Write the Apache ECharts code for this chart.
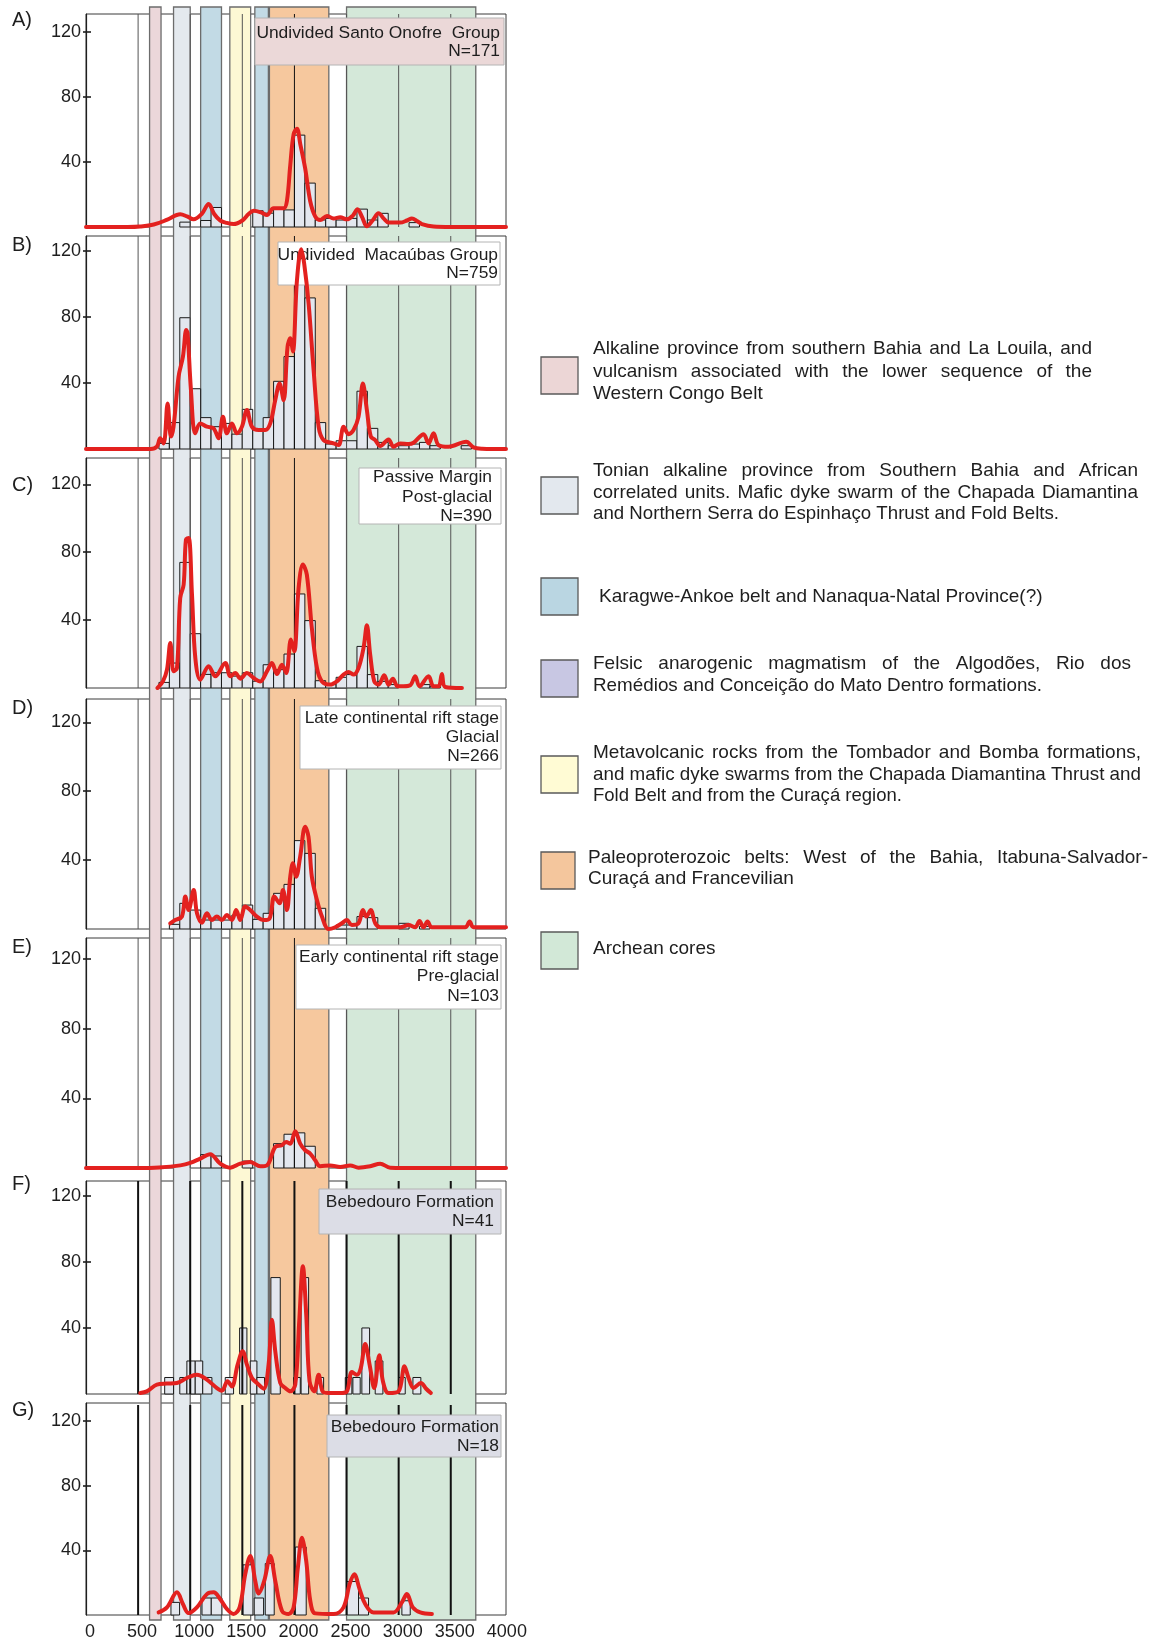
<!DOCTYPE html>
<html>
<head>
<meta charset="utf-8">
<script src="https://cdn.jsdelivr.net/npm/echarts@6/dist/echarts.min.js"></script>
<style>
  html, body { margin: 0; padding: 0; background: #fff; }
  #chart { width: 1154px; height: 1641px; }
</style>
</head>
<body>
<div id="chart"></div>
<script>
// ---------- data ----------
const ageTicks = [0, 500, 1000, 1500, 2000, 2500, 3000, 3500, 4000];
const yTicks = [40, 80, 120];
const yearLines = [500, 1000, 1500, 2000, 2500, 3000, 3500];

// reference age bands (Ma): [start, end, colour index]
const ageBands = [
  [610, 720, 0], [840, 1000, 1], [1100, 1300, 2], [1380, 1580, 3],
  [1620, 1750, 2], [1760, 2330, 4], [2500, 3740, 5]
];

// histogram bins: [from Ma, to Ma, height]
const barsA = [[900,1000,3],[1100,1200,4],[1200,1300,12],[1600,1700,10],[1700,1800,8.5],[1800,1900,12],[1900,2000,10.5],[2000,2100,56.5],[2100,2200,27],[2200,2300,4.3],[2300,2400,5.3],[2400,2500,4.3],[2500,2600,5.3],[2600,2700,11],[2700,2800,4.3],[2800,2900,8.4],[3100,3200,2.7]];
const barsB = [[700,800,3.4],[800,900,16],[900,1000,79.5],[1000,1100,36.5],[1100,1200,19],[1200,1300,13.5],[1300,1400,15.5],[1400,1500,9],[1500,1600,24],[1600,1700,11.5],[1700,1800,19],[1800,1900,41],[1900,2000,56],[2000,2100,116],[2100,2200,91.5],[2200,2300,16],[2300,2400,3],[2400,2500,5],[2500,2600,5],[2600,2700,35],[2700,2800,12.5],[2800,2900,4],[2900,3000,2],[3000,3100,2],[3100,3200,3],[3200,3300,4],[3300,3400,2],[3600,3700,2]];
const barsC = [[700,800,3.3],[800,900,14.7],[900,1000,74],[1000,1100,32],[1100,1200,8],[1200,1300,9],[1300,1400,9],[1400,1500,7],[1500,1600,9],[1600,1700,4],[1700,1800,13.7],[1800,1900,10.8],[1900,2000,20],[2000,2100,55.4],[2100,2200,39.7],[2200,2300,4.3],[2300,2400,2],[2400,2500,6.3],[2500,2600,7.9],[2600,2700,24.5],[2700,2800,7.9],[2800,2900,3.9],[2900,3000,2],[3200,3300,2],[3300,3400,1]];
const barsD = [[800,900,2.7],[900,1000,14.9],[1000,1100,11],[1100,1200,5.2],[1200,1300,5.2],[1300,1400,5.2],[1400,1500,8.1],[1500,1600,13.9],[1600,1700,5.6],[1700,1800,9.1],[1800,1900,20.7],[1900,2000,25.9],[2000,2100,51.3],[2100,2200,43.9],[2200,2300,12],[2400,2500,2.3],[2500,2600,2.3],[2600,2700,7.2],[2700,2800,6.6],[3000,3100,3.3],[3200,3300,1.5]];
const barsE = [[1100,1200,7.7],[1200,1300,6.9],[1500,1600,4],[1800,1900,14],[1900,2000,19.4],[2000,2100,20.2],[2100,2200,12.5]];
const barsF = [[755,840,10],[900,968,10],[968,1048,20],[1048,1120,20],[1120,1208,10],[1336,1416,10],[1474,1544,40],[1576,1640,20],[1640,1713,10],[1774,1864,70.5],[1992,2056,10],[2064,2136,70.5],[2216,2280,10],[2488,2551,10],[2561,2631,10],[2647,2721,40],[2775,2849,20],[2999,3063,10],[3137,3213,10]];
const barsG = [[815,898,7.8],[1113,1202,10.5],[1202,1304,10.5],[1506,1602,31],[1614,1704,10.5],[1720,1806,31.8],[2008,2113,42],[2503,2615,20.7],[2615,2711,10.5],[3031,3111,8.8]];

// probability density curves: [age Ma, value]
const kdeA = [[0,0],[400,0],[520,0.3],[650,1.5],[780,4.5],[904,7.8],[970,6.5],[1032,4.7],[1110,8],[1177,14.2],[1230,8],[1289,3.9],[1350,2.5],[1416,1.8],[1500,4],[1560,8],[1608,10],[1680,9],[1736,7.4],[1800,11.5],[1896,11.5],[1928,16],[1960,38],[1992,57],[2024,60.5],[2056,51],[2103,36],[2151,16],[2200,6.4],[2248,4.3],[2312,6.8],[2375,5.3],[2439,6],[2503,4.7],[2560,7],[2605,10.9],[2650,6],[2695,0.5],[2750,4],[2807,8.4],[2860,5],[2903,2.7],[3015,2.7],[3080,4],[3127,5.3],[3180,3.5],[3223,1.8],[3335,0.3],[3500,0],[4030,0]];
const kdeB = [[0,0],[620,0],[680,1.4],[712,6.5],[745,3.4],[783,27.6],[815,7.5],[840,13.5],[888,43.8],[930,55.9],[962,72],[975,70],[1007,35.7],[1048,9.5],[1096,15.5],[1160,13.5],[1224,12.5],[1272,6.5],[1314,19.6],[1352,9.5],[1400,15.5],[1448,9.5],[1496,13.5],[1544,23.6],[1592,13.5],[1656,11.5],[1720,11.5],[1768,15.5],[1816,29.6],[1857,39.7],[1896,29.6],[1934,62],[1960,67],[1985,59],[2024,102],[2065,121],[2094,112],[2136,88],[2184,47.8],[2232,13.5],[2280,5.4],[2376,3.4],[2424,2.4],[2472,13.5],[2519,9],[2567,11.5],[2615,19.6],[2657,39.7],[2695,23.6],[2733,7.5],[2775,5.4],[2823,1.8],[2903,5.8],[2951,1.4],[3015,3.4],[3095,3],[3143,3.8],[3239,9],[3287,3.4],[3335,9.5],[3383,2.4],[3479,1.4],[3648,4.4],[3718,1],[3800,0.2],[4030,0]];
const kdeC = [[686,0],[738,3.9],[777,10.8],[809,26.5],[840,9.8],[873,11.8],[904,53],[937,60.9],[959,87.4],[985,88.4],[1017,55],[1049,17.7],[1097,4.9],[1177,12.8],[1241,6.9],[1337,14.7],[1385,6.9],[1433,8.8],[1481,5.5],[1544,8.8],[1608,5.9],[1672,3.9],[1736,9.8],[1784,14.7],[1832,8.2],[1880,13.7],[1921,8.8],[1966,28.5],[1998,21.6],[2040,58.9],[2081,72.7],[2119,66.8],[2167,35.3],[2216,11.8],[2264,3.9],[2343,2],[2407,3.9],[2471,7.9],[2519,9.4],[2567,7.9],[2615,11.8],[2663,23.6],[2695,36.9],[2727,19.6],[2766,3.9],[2807,2],[2862,7.5],[2903,2],[2945,5.5],[2990,1],[3047,1],[3111,1.6],[3159,6.9],[3200,1],[3287,6.9],[3335,1],[3383,1],[3415,8.2],[3447,0.6],[3607,0]];
const kdeD = [[808,3.3],[856,5.2],[920,7.2],[953,18.8],[985,11],[1033,22.6],[1065,9.1],[1113,3.7],[1160,9.1],[1208,5.2],[1256,7.2],[1304,5.2],[1352,8.1],[1400,5.2],[1441,11],[1480,5.2],[1528,13],[1576,11],[1640,7.2],[1704,5.2],[1762,6.2],[1807,18.8],[1858,14.9],[1890,22.6],[1928,11],[1960,30.4],[1985,38.1],[2017,30.4],[2055,42],[2103,59.4],[2135,53.6],[2167,30.4],[2216,16.8],[2264,7.2],[2327,0],[2391,1],[2455,3.3],[2503,5.2],[2551,2.3],[2615,3.3],[2657,11],[2689,7.2],[2733,11],[2775,3.3],[2823,1],[3015,1],[3095,2.3],[3159,1],[3200,4.6],[3239,1],[3277,4.3],[3319,1],[3639,1],[3681,4.3],[3718,1],[4030,1]];
const kdeE = [[0,0],[500,0],[700,0.3],[905,1.5],[1000,2.9],[1096,5.4],[1192,7.9],[1288,2.5],[1384,0.2],[1480,2.5],[1576,3.5],[1672,1],[1736,1.5],[1816,12.1],[1880,13.1],[1921,15],[1960,14],[2008,21.1],[2055,14],[2103,10.2],[2151,8.3],[2199,4.4],[2248,1],[2343,1.5],[2439,0.6],[2535,1.5],[2615,0.2],[2727,1],[2823,2.5],[2919,0.2],[3200,0],[4030,0]];
const kdeF = [[520,0.6],[584,1.6],[680,5.7],[776,6.3],[872,6.7],[968,9.7],[1064,11.7],[1160,8.7],[1256,3.6],[1304,2],[1358,7.7],[1400,4.6],[1455,17.8],[1503,25.9],[1544,17.8],[1592,9.7],[1640,6.7],[1704,3.2],[1752,17.8],[1784,45],[1816,25.9],[1864,6.7],[1912,3.6],[1960,1.6],[2008,5.7],[2046,44],[2081,77.4],[2113,48],[2145,7.7],[2190,1.6],[2232,11.7],[2270,1.6],[2327,0.6],[2439,0.6],[2503,1.6],[2551,13.3],[2599,11.7],[2637,15.8],[2679,30.3],[2721,17.8],[2766,3.6],[2814,23.4],[2849,7.7],[2903,0.6],[2999,1.6],[3056,16.8],[3095,9.7],[3143,3.6],[3213,6.7],[3264,3.2],[3309,0.6]];
const kdeG = [[697,1.6],[777,4.7],[873,14],[930,6.8],[984,1.2],[1064,4.7],[1160,12.9],[1224,14],[1288,9.8],[1352,3.7],[1416,0.6],[1474,4.7],[1528,25.2],[1576,36.5],[1624,21.1],[1656,13.3],[1710,21.1],[1768,36.5],[1816,21.1],[1880,2.7],[1944,0.6],[1992,4.7],[2033,29.3],[2072,47.8],[2113,33.4],[2152,8.8],[2200,1],[2376,0.6],[2471,4.7],[2529,19],[2574,25.2],[2625,16],[2679,6.8],[2759,1.6],[2951,1.6],[3031,7.8],[3079,12.9],[3136,4.7],[3207,1.6],[3319,0.6]];

const panelLetters = ['A)', 'B)', 'C)', 'D)', 'E)', 'F)', 'G)'];
const panelTitles = [
  ['Undivided Santo Onofre  Group', 'N=171'],
  ['Undivided  Macaúbas Group', 'N=759'],
  ['Passive Margin', 'Post-glacial', 'N=390'],
  ['Late continental rift stage', 'Glacial', 'N=266'],
  ['Early continental rift stage', 'Pre-glacial', 'N=103'],
  ['Bebedouro Formation', 'N=41'],
  ['Bebedouro Formation', 'N=18']
];
const legendTexts = [
  ['Alkaline province from southern Bahia and La Louila, and', 'vulcanism associated with the lower sequence of the', 'Western Congo Belt'],
  ['Tonian alkaline province from Southern Bahia and African', 'correlated units. Mafic dyke swarm of  the Chapada Diamantina', 'and Northern Serra do Espinhaço Thrust and Fold Belts.'],
  ['Karagwe-Ankoe belt and Nanaqua-Natal Province(?)'],
  ['Felsic anarogenic magmatism of the Algodões, Rio dos', 'Remédios and Conceição do Mato Dentro formations.'],
  ['Metavolcanic rocks from the Tombador and Bomba formations,', 'and mafic dyke swarms from the Chapada Diamantina Thrust and', 'Fold Belt and from the Curaçá region.'],
  ['Paleoproterozoic belts: West of the Bahia, Itabuna-Salvador-', 'Curaçá and Francevilian'],
  ['Archean cores']
];

// ---------- styling & layout ----------
const FONT = '"Liberation Sans", Arial, Helvetica, sans-serif';
const INK = '#1e1e1e';
const bandColors = ['#ebd7da', '#e4e9ee', '#c2dae5', '#fdf8d4', '#f6c89e', '#d4e8d9'];
const legendColors = ['#ecd6d6', '#e3e8ee', '#bad6e2', '#c8c7e3', '#fffbd4', '#f4c69d', '#d2e8d7'];
const X_MAX = 4030;
const PLOT_LEFT = 86, PLOT_WIDTH = 420;

const panels = [
  { bars: barsA, kde: kdeA, top: 14,   height: 213, yMax: 131,   letterY: 20,
    box: [255, 18, 504, 65],    textRight: 500, lineY: [33.3, 51.7], fill: '#ebd8d8' },
  { bars: barsB, kde: kdeB, top: 236,  height: 213, yMax: 129,   letterY: 245,
    box: [278, 242, 500, 285],  textRight: 498, lineY: [255, 273.3], fill: '#ffffff' },
  { bars: barsC, kde: kdeC, top: 458,  height: 230, yMax: 135.5, letterY: 485,
    box: [359, 468, 501, 524],  textRight: 492, lineY: [477.7, 497.3, 516], fill: '#ffffff' },
  { bars: barsD, kde: kdeD, top: 699,  height: 230, yMax: 133.5, letterY: 708,
    box: [300, 706, 501, 769],  textRight: 499, lineY: [718.3, 737.7, 756.7], fill: '#ffffff' },
  { bars: barsE, kde: kdeE, top: 938,  height: 230, yMax: 132.2, letterY: 947,
    box: [296, 945, 501, 1009], textRight: 499, lineY: [957.3, 976.7, 996], fill: '#ffffff' },
  { bars: barsF, kde: kdeF, top: 1181, height: 213, yMax: 129,   letterY: 1184,
    box: [319, 1189, 501, 1234], textRight: 494, lineY: [1202.3, 1221], fill: '#dcdde6', heavy: true },
  { bars: barsG, kde: kdeG, top: 1403, height: 213, yMax: 131,   letterY: 1410,
    box: [327, 1415, 501, 1457], textRight: 499, lineY: [1427.3, 1446], fill: '#dcdde6', heavy: true }
];

// legend rows: swatch top, text start, line centres, right edge per line, justified line count
const legendLayout = [
  { boxY: 357, boxW: 37, textX: 593, lineY: [349, 371.5, 393.5], rightX: [1092, 1092, 0],    justify: 2 },
  { boxY: 477, boxW: 37, textX: 593, lineY: [471, 493, 514],     rightX: [1138, 1138, 1059], justify: 2 },
  { boxY: 578, boxW: 37, textX: 599, lineY: [597],               rightX: [1052],             justify: 0 },
  { boxY: 660, boxW: 37, textX: 593, lineY: [664, 686],          rightX: [1131, 1042],       justify: 1 },
  { boxY: 756, boxW: 37, textX: 593, lineY: [753, 775, 796],     rightX: [1141, 1141, 902],  justify: 2 },
  { boxY: 852, boxW: 34, textX: 588, lineY: [858, 879],          rightX: [1148, 793],        justify: 1 },
  { boxY: 932, boxW: 37, textX: 593, lineY: [949],               rightX: [0],                justify: 0 }
];

// ---------- build option ----------
const grids = [], xAxes = [], yAxes = [], series = [], graphics = [];

// full-height band strip behind all panels
grids.push({ left: PLOT_LEFT, width: PLOT_WIDTH, top: 7, height: 1613, show: false });
xAxes.push({ gridIndex: 0, type: 'value', min: 0, max: X_MAX, show: false });
yAxes.push({ gridIndex: 0, type: 'value', min: 0, max: 1, show: false });
series.push({
  type: 'custom', xAxisIndex: 0, yAxisIndex: 0, z: 0, silent: true,
  data: ageBands,
  renderItem: function (params, api) {
    const a = api.coord([api.value(0), 1]);
    const b = api.coord([api.value(1), 0]);
    return {
      type: 'rect',
      shape: { x: a[0], y: a[1], width: b[0] - a[0], height: b[1] - a[1] },
      style: { fill: bandColors[api.value(2)], stroke: '#6c6c6c', lineWidth: 1.3 }
    };
  }
});

panels.forEach(function (p, i) {
  const g = i + 1;
  const isLast = i === panels.length - 1;
  grids.push({
    left: PLOT_LEFT, width: PLOT_WIDTH, top: p.top, height: p.height,
    show: true, borderColor: '#3a3a3a', borderWidth: 1, backgroundColor: 'transparent'
  });
  xAxes.push({
    gridIndex: g, type: 'value', min: 0, max: X_MAX, interval: 500,
    axisLine: { show: false }, axisTick: { show: false }, splitLine: { show: false },
    axisLabel: {
      show: isLast, customValues: ageTicks, showMaxLabel: true, showMinLabel: true,
      fontSize: 18, fontFamily: FONT, color: INK, margin: 8, padding: [0, 0, 0, 8],
      formatter: function (v) { return v % 500 === 0 && v <= 4000 ? String(v) : ''; }
    }
  });
  const yBase = yAxes.length;
  yAxes.push({
    gridIndex: g, type: 'value', min: 0, max: p.yMax, interval: 40, position: 'left',
    axisLine: { show: true, lineStyle: { color: INK, width: 1.2 } },
    axisTick: { show: true, length: 3, customValues: yTicks, lineStyle: { color: INK, width: 1.6 } },
    axisLabel: {
      customValues: yTicks, fontSize: 18, fontFamily: FONT, color: INK, margin: 5,
      formatter: function (v) { return yTicks.indexOf(v) >= 0 ? String(v) : ''; }
    },
    splitLine: { show: false }
  });
  yAxes.push({
    gridIndex: g, type: 'value', min: 0, max: p.yMax, interval: 40, position: 'left',
    axisLine: { show: false },
    axisTick: { show: true, inside: true, length: 5, customValues: yTicks, lineStyle: { color: INK, width: 1.6 } },
    axisLabel: { show: false }, splitLine: { show: false }
  });

  // histogram
  series.push({
    type: 'custom', xAxisIndex: g, yAxisIndex: yBase, z: 2, silent: true,
    data: p.bars,
    renderItem: function (params, api) {
      const a = api.coord([api.value(0), 0]);
      const b = api.coord([api.value(1), api.value(2)]);
      return {
        type: 'rect',
        shape: { x: a[0], y: b[1], width: b[0] - a[0], height: a[1] - b[1] },
        style: { fill: '#e3e7ee', stroke: '#1a1a1a', lineWidth: 1 }
      };
    }
  });

  // vertical age lines every 500 Ma
  series.push({
    type: 'custom', xAxisIndex: g, yAxisIndex: yBase, z: 2.5, silent: true,
    data: yearLines.map(function (v) { return [v]; }),
    renderItem: function (params, api) {
      const cs = params.coordSys;
      const x = api.coord([api.value(0), 0])[0];
      const v = api.value(0);
      const heavy = p.heavy;
      return {
        type: 'line',
        shape: { x1: x, y1: cs.y + (heavy && isLast ? 2 : 0), x2: x, y2: cs.y + cs.height },
        style: {
          stroke: heavy ? '#111' : (v === 2000 ? '#111' : '#555'),
          lineWidth: heavy ? 2 : 1
        }
      };
    }
  });

  // density curve
  series.push({
    type: 'line', xAxisIndex: g, yAxisIndex: yBase, z: 5, silent: true,
    data: p.kde, smooth: 0.35, symbol: 'none', showSymbol: false,
    lineStyle: { color: '#e3211f', width: 4, cap: 'round', join: 'round' }
  });

  // panel letter
  graphics.push({
    type: 'text', z: 10, x: 12, y: p.letterY,
    style: { text: panelLetters[i], fontSize: 20, fontFamily: FONT, fill: INK,
             textAlign: 'left', textVerticalAlign: 'middle', align: 'left', verticalAlign: 'middle' }
  });

  // title box
  const bx = p.box;
  graphics.push({
    type: 'rect', z: 3, silent: true,
    shape: { x: bx[0], y: bx[1], width: bx[2] - bx[0], height: bx[3] - bx[1] },
    style: { fill: p.fill, stroke: '#b4b4b4', lineWidth: 1 }
  });
  panelTitles[i].forEach(function (t, k) {
    graphics.push({
      type: 'text', z: 4, silent: true, x: p.textRight, y: p.lineY[k],
      style: { text: t, fontSize: 17.4, fontFamily: FONT, fill: INK,
               textAlign: 'right', textVerticalAlign: 'middle', align: 'right', verticalAlign: 'middle' }
    });
  });
});

// ---------- legend: justified / fitted lines ----------
const measureCtx = document.createElement('canvas').getContext('2d');
const LEGEND_SIZE = 19;
measureCtx.font = LEGEND_SIZE + 'px ' + FONT;
function legendText(t, x, y, sx) {
  return {
    type: 'text', z: 10, silent: true, x: x, y: y, scaleX: sx || 1,
    style: { text: t, fontSize: LEGEND_SIZE, fontFamily: FONT, fill: INK,
             textAlign: 'left', textVerticalAlign: 'middle', align: 'left', verticalAlign: 'middle' }
  };
}
legendTexts.forEach(function (lines, i) {
  const L = legendLayout[i];
  graphics.push({
    type: 'rect', z: 10, silent: true,
    shape: { x: 541, y: L.boxY, width: L.boxW, height: 37 },
    style: { fill: legendColors[i], stroke: '#5a5a5a', lineWidth: 1.3 }
  });
  lines.forEach(function (line, k) {
    const y = L.lineY[k];
    const right = L.rightX[k];
    const natural = measureCtx.measureText(line).width;
    const target = right ? right - L.textX : natural;
    if (natural > target + 1) {
      // condensed line
      graphics.push(legendText(line, L.textX, y, target / natural));
    } else if (k < L.justify) {
      const words = line.split(/\s+/);
      const widths = words.map(function (w) { return measureCtx.measureText(w).width; });
      const total = widths.reduce(function (s, w) { return s + w; }, 0);
      const gap = (target - total) / (words.length - 1);
      let x = L.textX;
      words.forEach(function (w, j) {
        graphics.push(legendText(w, x, y));
        x += widths[j] + gap;
      });
    } else {
      graphics.push(legendText(line, L.textX, y));
    }
  });
});

const chart = echarts.init(document.getElementById('chart'), null, { renderer: 'canvas', width: 1154, height: 1641 });
chart.setOption({
  animation: false,
  backgroundColor: '#ffffff',
  grid: grids,
  xAxis: xAxes,
  yAxis: yAxes,
  series: series,
  graphic: { elements: graphics }
});
</script>
</body>
</html>
